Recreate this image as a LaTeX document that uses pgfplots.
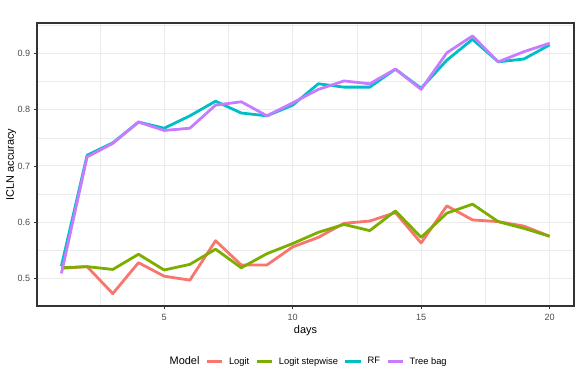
\documentclass[border=0pt]{standalone}
\usepackage{fontspec}
\setmainfont{Liberation Sans}
\usepackage{pgfplots}
\pgfplotsset{compat=1.18}
\definecolor{cLogit}{HTML}{F8766D}
\definecolor{cStep}{HTML}{7CAE00}
\definecolor{cRF}{HTML}{00BFC4}
\definecolor{cTree}{HTML}{C77CFF}
\definecolor{grid92}{HTML}{EBEBEB}
\definecolor{grey30}{HTML}{4D4D4D}
\definecolor{grey20}{HTML}{333333}
\begin{document}
\begin{tikzpicture}
\useasboundingbox (-27.75pt,-55.5pt) rectangle (407.25pt,229.5pt);
\begin{axis}[
  at={(0,0)}, anchor=south west,
  scale only axis, width=402.75pt, height=212.25pt,
  xmin=0.05, xmax=20.95, ymin=0.451, ymax=0.954,
  xtick={5,10,15,20}, minor xtick={2.5,7.5,12.5,17.5},
  ytick={0.5,0.6,0.7,0.8,0.9}, minor ytick={0.55,0.65,0.75,0.85,0.95},
  grid=both,
  major grid style={grid92, line width=0.7pt},
  minor grid style={grid92, line width=0.35pt},
  axis line style={grey20, line width=0.8pt},
  tick align=outside, tick pos=left,
  major tick length=2.5pt, minor tick length=0pt,
  tick style={grey20, line width=0.6pt},
  /pgf/number format/assume math mode=true,
  yticklabel style={/pgf/number format/fixed, /pgf/number format/precision=1, /pgf/number format/fixed zerofill, font=\fontsize{6.8}{8}\selectfont, text=grey30, xshift=1pt},
  xticklabel style={font=\fontsize{6.8}{8}\selectfont, text=grey30},
  scaled y ticks=false,
  xlabel={days}, ylabel={ICLN accuracy},
  xlabel style={font=\fontsize{8.2}{10}\selectfont, at={(axis description cs:0.5,-0.088)}, anchor=center},
  ylabel style={font=\fontsize{8.2}{10}\selectfont, at={(axis description cs:-0.048,0.5)}, anchor=center, rotate=0},
  legend columns=-1,
  legend style={at={(0.5,-0.197)}, anchor=center, draw=none, fill=none,
    font=\fontsize{7}{8}\selectfont,
    nodes={inner xsep=0pt},
    /tikz/every odd column/.append style={column sep=4pt},
    /tikz/every even column/.append style={column sep=4.5pt}},
  legend image code/.code={\draw[#1, line width=2.2pt] (0pt,0pt) -- (11.5pt,0pt);},
  every axis plot/.append style={line width=2.1pt, line join=round, mark=none},
]
\addlegendimage{empty legend}
\addlegendentry{\fontsize{8.2}{10}\selectfont Model\hspace{-6pt}}
\addplot[cLogit] coordinates {
(1,0.518) (2,0.521) (3,0.473) (4,0.528) (5,0.504) (6,0.497) (7,0.567) (8,0.524) (9,0.524) (10,0.556)
(11,0.573) (12,0.598) (13,0.602) (14,0.617) (15,0.563) (16,0.629) (17,0.604) (18,0.601) (19,0.593) (20,0.575)};
\addlegendentry{Logit}
\addplot[cStep] coordinates {
(1,0.519) (2,0.521) (3,0.516) (4,0.543) (5,0.515) (6,0.525) (7,0.552) (8,0.519) (9,0.544) (10,0.562)
(11,0.582) (12,0.596) (13,0.585) (14,0.620) (15,0.573) (16,0.616) (17,0.632) (18,0.601) (19,0.589) (20,0.575)};
\addlegendentry{Logit stepwise}
\addplot[cRF] coordinates {
(1,0.522) (2,0.719) (3,0.741) (4,0.778) (5,0.767) (6,0.789) (7,0.815) (8,0.794) (9,0.789) (10,0.808)
(11,0.846) (12,0.840) (13,0.840) (14,0.872) (15,0.838) (16,0.888) (17,0.925) (18,0.885) (19,0.890) (20,0.915)};
\addlegendentry{RF}
\addplot[cTree] coordinates {
(1,0.509) (2,0.716) (3,0.740) (4,0.778) (5,0.763) (6,0.767) (7,0.808) (8,0.814) (9,0.789) (10,0.812)
(11,0.836) (12,0.851) (13,0.846) (14,0.872) (15,0.836) (16,0.901) (17,0.931) (18,0.885) (19,0.903) (20,0.918)};
\addlegendentry{Tree bag}
\end{axis}
\end{tikzpicture}
\end{document}
